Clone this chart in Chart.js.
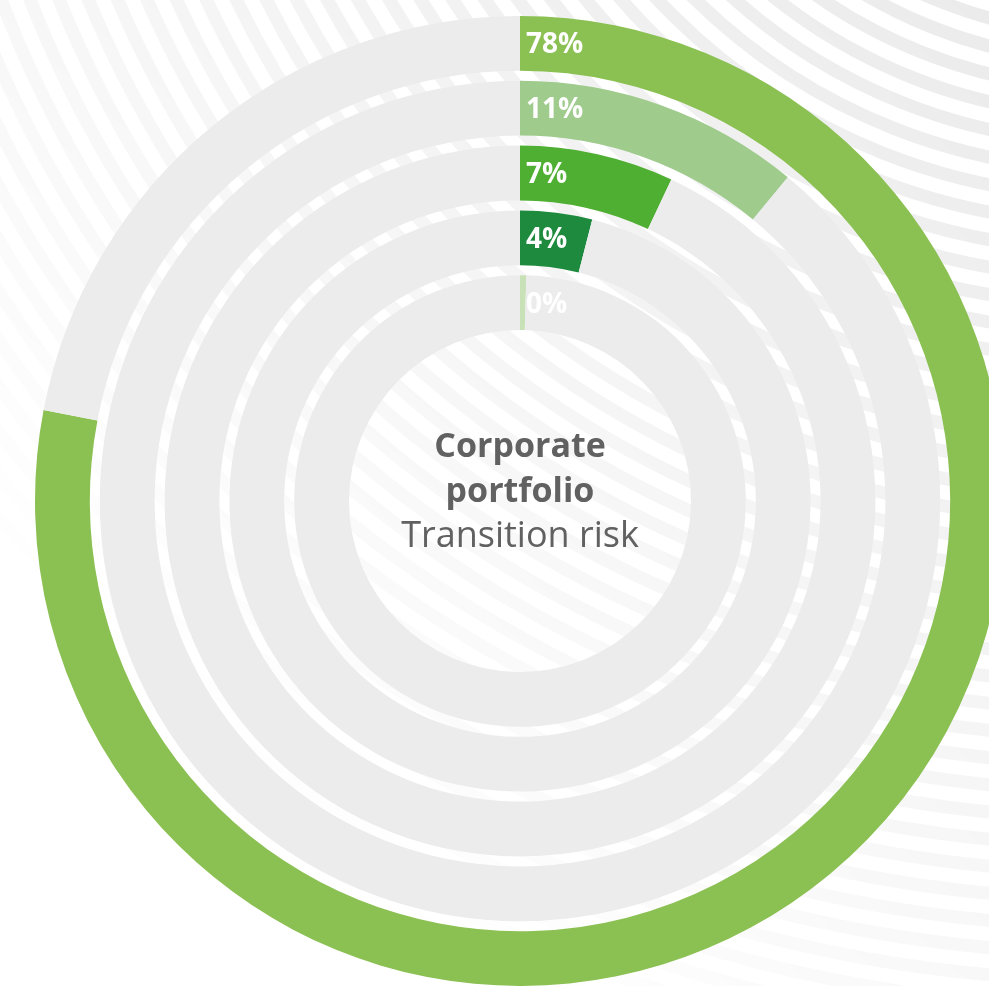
<!DOCTYPE html>
<html>
<head>
<meta charset="utf-8">
<script src="https://cdn.jsdelivr.net/npm/chart.js@4.4.1/dist/chart.umd.min.js"></script>
<style>
  html, body { margin: 0; padding: 0; background: #fff; overflow: hidden; }
  #wrap { position: relative; width: 1040px; height: 1002px; }
</style>
</head>
<body>
<div id="wrap"><canvas id="ringChart"></canvas></div>
<script>
// share of the portfolio in each band, outer ring first
const bandShares = [78, 11, 7, 4, 0.45];
const bandColors = ['#8bc053', '#9fcb8d', '#4faf32', '#1e8a3e', '#c9e1b6'];
const trackColor = '#ececec';
const centerTitle = ['Corporate', 'portfolio'];
const centerSubtitle = 'Transition risk';

function pct(v) {
    return Math.round(v) + '%';
}

// faint curved stripes behind the rings, fading out towards bottom left
const stripesPlugin = {
    id: 'stripes',
    beforeDraw(chart) {
        const ctx = chart.ctx;
        const grad = ctx.createLinearGradient(989, 0, 250, 800);
        grad.addColorStop(0, 'rgba(0,0,0,0.08)');
        grad.addColorStop(0.55, 'rgba(0,0,0,0.035)');
        grad.addColorStop(1, 'rgba(0,0,0,0)');
        ctx.save();
        ctx.strokeStyle = grad;
        ctx.lineWidth = 13;
        for (let r = 300; r < 2200; r += 27) {
            ctx.beginPath();
            ctx.arc(1113, -427, r, 0, Math.PI * 2);
            ctx.stroke();
        }
        ctx.restore();
    }
};

// percentage at the start of each ring + caption in the hole
const labelsPlugin = {
    id: 'bandLabels',
    afterDatasetsDraw(chart) {
        const ctx = chart.ctx;
        ctx.save();
        ctx.fillStyle = '#fff';
        ctx.font = '700 28px "Open Sans"';
        ctx.textAlign = 'left';
        ctx.textBaseline = 'middle';
        let cx = 0, cy = 0;
        bandShares.forEach((v, i) => {
            const arc = chart.getDatasetMeta(i * 2).data[0];
            const mid = (arc.innerRadius + arc.outerRadius) / 2;
            ctx.fillText(pct(v), arc.x + 6, arc.y - mid + 2);
            cx = arc.x;
            cy = arc.y;
        });

        ctx.fillStyle = '#616161';
        ctx.textAlign = 'center';
        ctx.textBaseline = 'alphabetic';
        ctx.font = '700 34px "Open Sans"';
        ctx.fillText(centerTitle[0], cx, cy - 44);
        ctx.fillText(centerTitle[1], cx, cy + 1);
        ctx.font = '400 36px "Open Sans"';
        ctx.fillText(centerSubtitle, cx, cy + 46);
        ctx.restore();
    }
};

const datasets = [];
bandShares.forEach((v, i) => {
    if (i > 0) {
        // transparent spacer ring between bands
        datasets.push({
            data: [1],
            backgroundColor: ['rgba(0,0,0,0)'],
            weight: 10
        });
    }
    datasets.push({
        label: pct(v),
        data: [v, 100 - v],
        backgroundColor: [bandColors[i], trackColor],
        weight: 55
    });
});

const config = {
    type: 'doughnut',
    data: { datasets: datasets },
    options: {
        responsive: true,
        maintainAspectRatio: false,
        animation: false,
        events: [],
        cutout: 171,
        layout: { padding: { left: 35, right: 35, top: 16, bottom: 16 } },
        elements: { arc: { borderWidth: 0, hoverOffset: 0, offset: 0 } },
        plugins: {
            legend: { display: false },
            tooltip: { enabled: false }
        }
    },
    plugins: [stripesPlugin, labelsPlugin]
};

let ctx = document.getElementById('ringChart').getContext('2d');
new Chart(ctx, config);
</script>
</body>
</html>
